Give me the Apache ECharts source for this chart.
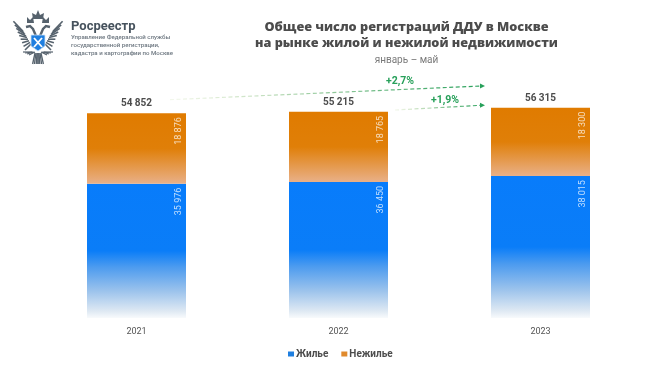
<!DOCTYPE html>
<html>
<head>
<meta charset="utf-8">
<style>
html, body { margin: 0; padding: 0; background: #fff; }
#main { width: 650px; height: 367px; }
</style>
<script src="https://cdn.jsdelivr.net/npm/echarts@6/dist/echarts.min.js"></script>
</head>
<body>
<div id="main"></div>
<script>
var years = ["2021", "2022", "2023"];
var housing = [35976, 36450, 38015];
var nonHousing = [18876, 18765, 18300];
var totals = [54852, 55215, 56315];
var growthLabels = ["+2,7%", "+1,9%"];
var logoLines = ["Управление Федеральной службы", "государственной регистрации,", "кадастра и картографии по Москве"];

function fmt(v) {
    return String(v).replace(/\B(?=(\d{3})+$)/g, " ");
}

var LG = echarts.graphic.LinearGradient;
var fontMain = "Roboto, 'Noto Sans', sans-serif";

function arrow(x1, y1, x2, y2) {
    return [
        {
            type: "line",
            shape: { x1: x1, y1: y1, x2: x2 - 4, y2: y2 },
            style: {
                lineWidth: 1.2,
                lineDash: [4, 2.5],
                stroke: new LG(0, 0, 1, 0, [
                    { offset: 0, color: "rgba(200,220,170,0.2)" },
                    { offset: 0.5, color: "#93c99c" },
                    { offset: 1, color: "#27a05a" }
                ])
            }
        },
        {
            type: "polygon",
            shape: { points: [[x2, y2], [x2 - 5, y2 - 2.5], [x2 - 5, y2 + 2.5]] },
            style: { fill: "#27a05a" }
        }
    ];
}

function emblem() {
    var dark = "#56626d";
    var list = [];
    [-1, 1].forEach(function(s) {
        var cx = 38;
        // wing feathers
        for (var i = 0; i < 9; i++) {
            list.push({
                type: "line",
                shape: { x1: cx + s * (7 + i), y1: 44 - i * 1.6, x2: cx + s * (13 + i * 1.45), y2: 50 - i * 3.6 },
                style: { stroke: dark, lineWidth: 1.6 }
            });
        }
        // head and neck
        list.push({
            type: "polyline",
            shape: { points: [[cx + s * 2, 36], [cx + s * 5, 29], [cx + s * 8, 26], [cx + s * 12, 27]] },
            style: { stroke: dark, lineWidth: 2.4, fill: "none" }
        });
        // crown
        list.push({
            type: "polygon",
            shape: { points: [[cx + s * 4, 23], [cx + s * 5, 17], [cx + s * 8, 20], [cx + s * 11, 17], [cx + s * 11, 23]] },
            style: { fill: dark }
        });
        // lower feathers and tail
        for (var j = 0; j < 4; j++) {
            list.push({
                type: "line",
                shape: { x1: cx + s * (3 + j), y1: 52, x2: cx + s * (9 + j * 2), y2: 55 - j },
                style: { stroke: dark, lineWidth: 1.2 }
            });
            list.push({
                type: "line",
                shape: { x1: cx + s * j, y1: 53, x2: cx + s * (j * 1.8), y2: 64 },
                style: { stroke: dark, lineWidth: 1.3 }
            });
        }
    });
    // big crown on top
    list.push({
        type: "polygon",
        shape: { points: [[33, 19], [32, 13], [36, 15], [38, 10], [40, 15], [44, 13], [43, 19]] },
        style: { fill: dark }
    });
    // shield
    list.push({
        type: "polygon",
        shape: { points: [[31, 35], [45, 35], [45, 46], [38, 51], [31, 46]] },
        style: { fill: "#1f7fe0", stroke: "#cfe2f5", lineWidth: 0.8 }
    });
    list.push({
        type: "line",
        shape: { x1: 34, y1: 38, x2: 42, y2: 47 },
        style: { stroke: "#fff", lineWidth: 1.8 }
    });
    list.push({
        type: "line",
        shape: { x1: 42, y1: 38, x2: 34, y2: 47 },
        style: { stroke: "#fff", lineWidth: 1.8 }
    });
    return list;
}

var graphics = emblem()
    .concat(arrow(170, 99.7, 485, 86))
    .concat(arrow(395, 110, 485, 105.3));

graphics.push({
    type: "text",
    style: { x: 71, y: 20, text: "Росреестр", fill: "#46525d", font: "bold 13px " + fontMain }
});
logoLines.forEach(function(t, i) {
    graphics.push({
        type: "text",
        style: { x: 71, y: 34 + i * 8, text: t, fill: "#6d7780", font: "500 6.1px " + fontMain }
    });
});
graphics.push({
    type: "text",
    style: { x: 400, y: 81.5, text: growthLabels[0], fill: "#27a05a", align: "center", verticalAlign: "middle", font: "bold 10.5px " + fontMain }
});
graphics.push({
    type: "text",
    style: { x: 445, y: 100.5, text: growthLabels[1], fill: "#27a05a", align: "center", verticalAlign: "middle", font: "bold 10.5px " + fontMain }
});

var segLabel = {
    show: true,
    rotate: 90,
    position: [92, 4],
    align: "right",
    verticalAlign: "middle",
    color: "rgba(255,255,255,0.75)",
    fontFamily: fontMain,
    fontSize: 9,
    formatter: function(p) { return fmt(p.value); }
};

var oChart = echarts.init(document.getElementById("main"));
var option = {
    backgroundColor: "#fff",
    animation: false,
    title: {
        text: "Общее число регистраций ДДУ в Москве\nна рынке жилой и нежилой недвижимости",
        subtext: "январь – май",
        left: 401.5,
        top: 14,
        textAlign: "center",
        itemGap: 4,
        textStyle: { color: "#4c4c4c", fontSize: 12.7, lineHeight: 16, fontWeight: 800, fontFamily: "'Open Sans', sans-serif" },
        subtextStyle: { color: "#7a7a7a", fontSize: 10, fontFamily: fontMain }
    },
    legend: {
        left: 283,
        top: 344,
        itemWidth: 6,
        itemHeight: 5,
        itemGap: 13,
        icon: "rect",
        textStyle: { color: "#4c4c4c", fontSize: 10, fontWeight: "bold", fontFamily: fontMain, padding: [0, 0, 0, -3] },
        data: [
            { name: "Жилье", itemStyle: { color: "#1f7fe0" } },
            { name: "Нежилье", itemStyle: { color: "#e08a2c" } }
        ]
    },
    grid: { left: 35.5, right: 8.5, top: 94, bottom: 49 },
    xAxis: {
        type: "category",
        data: years,
        axisLine: { show: false },
        axisTick: { show: false },
        axisLabel: { color: "#555", fontSize: 9, margin: 9, fontFamily: fontMain }
    },
    yAxis: { type: "value", min: 0, max: 60000, show: false },
    graphic: graphics,
    series: [
        {
            name: "Жилье",
            type: "bar",
            stack: "all",
            barWidth: 99,
            data: housing,
            label: segLabel,
            itemStyle: {
                color: new LG(0, 0, 0, 1, [
                    { offset: 0, color: "#087cfb" },
                    { offset: 0.5, color: "#0a7df8" },
                    { offset: 0.62, color: "#4c9bef" },
                    { offset: 0.8, color: "#9cc3ec" },
                    { offset: 0.95, color: "#dfe9f3" },
                    { offset: 1, color: "#f8fafc" }
                ])
            }
        },
        {
            name: "Нежилье",
            type: "bar",
            stack: "all",
            data: nonHousing,
            label: segLabel,
            itemStyle: {
                color: new LG(0, 0, 0, 1, [
                    { offset: 0, color: "#e07b00" },
                    { offset: 0.5, color: "#e07f08" },
                    { offset: 1, color: "#e9b088" }
                ])
            }
        },
        {
            name: "Всего",
            type: "line",
            data: totals,
            symbol: "circle",
            symbolSize: 1,
            itemStyle: { color: "rgba(0,0,0,0)" },
            lineStyle: { opacity: 0 },
            label: {
                show: true,
                position: "top",
                distance: 4,
                color: "#4c4c4c",
                fontSize: 10,
                fontWeight: "bold",
                fontFamily: fontMain,
                formatter: function(p) { return fmt(p.value); }
            }
        }
    ]
};
oChart.setOption(option);
</script>
</body>
</html>
